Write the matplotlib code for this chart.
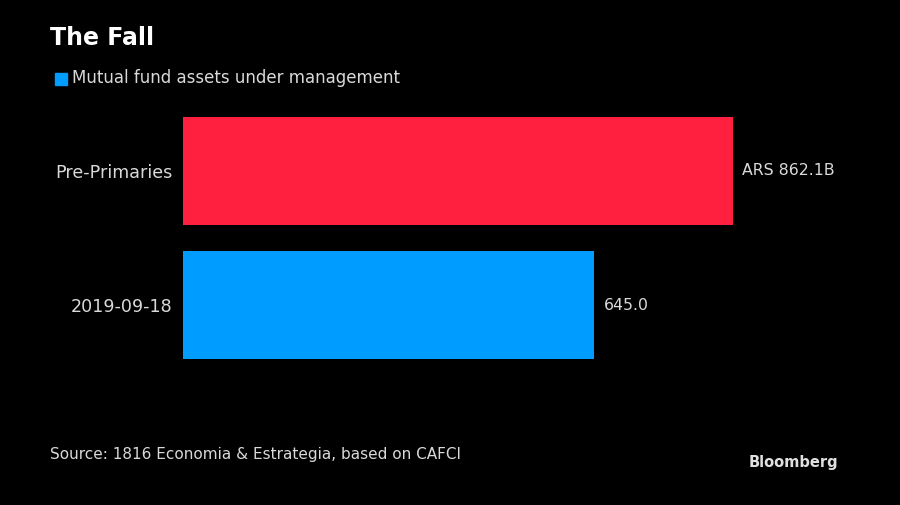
import matplotlib
matplotlib.use("Agg")
import matplotlib.pyplot as plt
from matplotlib.patches import Rectangle

categories = ["Pre-Primaries", "2019-09-18"]
values = [862.1, 645.0]
value_labels = ["ARS 862.1B", "645.0"]
bar_colors = ["#ff1f3f", "#009cff"]

BG = "#000000"
TEXT = "#d9d9d9"

fig = plt.figure(figsize=(9, 5.05), dpi=100, facecolor=BG)
ax = fig.add_axes([183 / 900, 1 - 359 / 505, 550 / 900, 242 / 505])
ax.set_facecolor(BG)

ax.barh(range(len(values)), values, height=0.8, color=bar_colors)
ax.set_xlim(0, max(values))
ax.set_ylim(1.4, -0.4)

for i, (v, lab) in enumerate(zip(values, value_labels)):
    ax.annotate(lab, (v, i), xytext=(6.5, 0), textcoords="offset points",
                va="center", ha="left", color=TEXT, fontsize=11.3)

ax.set_yticks(range(len(categories)))
ax.set_yticklabels(categories, color=TEXT, fontsize=12.6)
ax.tick_params(axis="y", length=0, pad=7.5)
ax.set_xticks([])
for s in ax.spines.values():
    s.set_visible(False)

fig.text(50 / 900, 1 - 38 / 505, "The Fall", color="white", fontsize=17,
         fontweight="bold", va="center", ha="left")
fig.patches.append(Rectangle((55 / 900, 1 - 85 / 505), 12 / 900, 12 / 505,
                             transform=fig.transFigure, color=bar_colors[1]))
fig.text(72 / 900, 1 - 78 / 505, "Mutual fund assets under management",
         color=TEXT, fontsize=12, va="center", ha="left")
fig.text(50 / 900, 1 - 455 / 505, "Source: 1816 Economia & Estrategia, based on CAFCI",
         color=TEXT, fontsize=11, va="center", ha="left")
fig.text(838 / 900, 1 - 463 / 505, "Bloomberg", color="#e0e0e0", fontsize=10.5,
         fontweight="bold", va="center", ha="right")

fig.savefig("out.png", dpi=100, facecolor=BG)
